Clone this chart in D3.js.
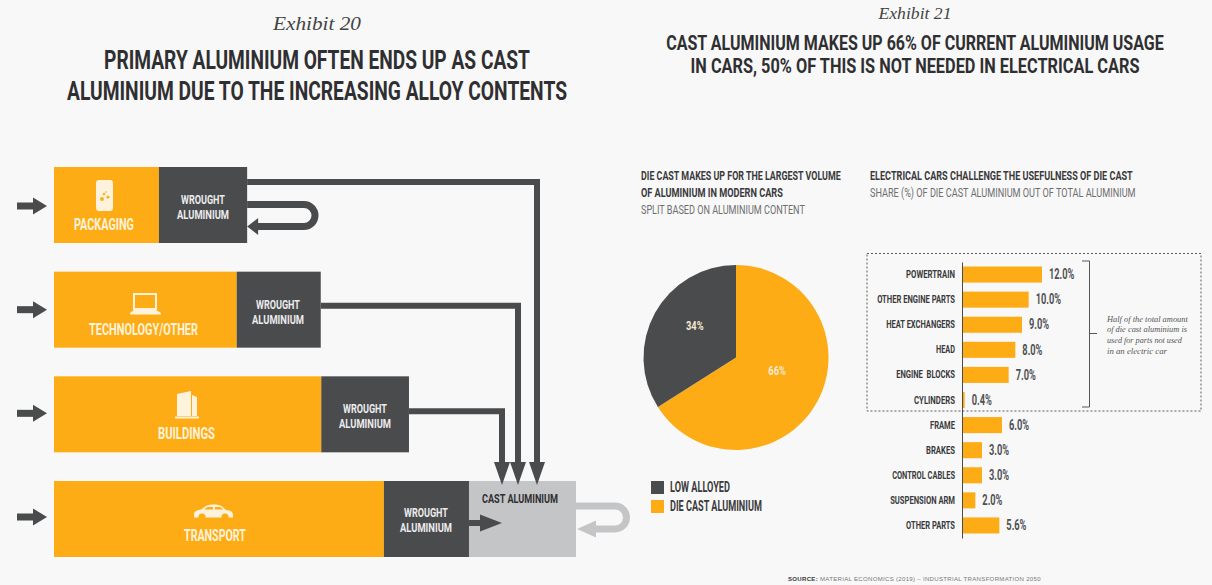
<!DOCTYPE html>
<html>
<head>
<meta charset="utf-8">
<title>Aluminium flows and cast aluminium in cars</title>
<script src="https://cdn.jsdelivr.net/npm/d3@7/dist/d3.min.js"></script>
<style>
  html, body { margin: 0; padding: 0; background: #f8f8f8; }
  svg { display: block; }
  text { font-family: "Liberation Sans Narrow", Roboto, "Liberation Sans", sans-serif; }
  .serif { font-family: "Liberation Serif", serif; font-style: italic; }
  .plain { font-family: "Liberation Sans", sans-serif; }
</style>
</head>
<body>
<svg id="chart" width="1212" height="585"></svg>
<script>
// Sector shares along the material flow, in percent of the full strip length
const sectors = ["PACKAGING", "TECHNOLOGY/OTHER", "BUILDINGS", "TRANSPORT"];
const primaryEnd = [20.1, 35.0, 51.2, 63.2];
const wroughtEnd = [37.0, 51.1, 68.0, 79.5];
const castEnd = 100;

// Composition of aluminium in modern cars
const pieNames = ["DIE CAST ALUMINIUM", "LOW ALLOYED"];
const pieValues = [66, 34];

// Die cast share per car part
const parts = ["POWERTRAIN", "OTHER ENGINE PARTS", "HEAT EXCHANGERS", "HEAD", "ENGINE  BLOCKS", "CYLINDERS",
               "FRAME", "BRAKES", "CONTROL CABLES", "SUSPENSION ARM", "OTHER PARTS"];
const shares = [12.0, 10.0, 9.0, 8.0, 7.0, 0.4, 6.0, 3.0, 3.0, 2.0, 5.6];

const note = ["Half of the total amount", "of die cast aluminium is", "used for parts not used", "in an electric car"];

const ORANGE = "#fdac16", DARK = "#4a4b4d", GREY = "#c4c5c7", INK = "#2f2f31", SOFT = "#6d6e70";
const svg = d3.select("#chart");

// Places a text and scales it horizontally to an exact width
function label(parent, str, x, y, o) {
  const t = parent.append("text")
    .attr("text-anchor", o.anchor || "middle")
    .attr("dominant-baseline", "central")
    .attr("font-size", o.size)
    .attr("font-weight", o.weight || "bold")
    .attr("fill", o.fill || INK)
    .text(str);
  if (o.cls) t.attr("class", o.cls);
  const sx = o.width ? o.width / t.node().getComputedTextLength() : 1;
  t.attr("transform", `translate(${x},${y}) scale(${sx},1)`);
  return t;
}

// Headings
label(svg, "Exhibit 20", 317, 23, { size: 19, weight: "normal", cls: "serif", fill: "#444", width: 88 });
label(svg, "PRIMARY ALUMINIUM OFTEN ENDS UP AS CAST", 317, 60, { size: 26, width: 426 });
label(svg, "ALUMINIUM DUE TO THE INCREASING ALLOY CONTENTS", 317, 91, { size: 26, width: 500 });
label(svg, "Exhibit 21", 915, 14, { size: 17, weight: "normal", cls: "serif", fill: "#444", width: 73 });
label(svg, "CAST ALUMINIUM MAKES UP 66% OF CURRENT ALUMINIUM USAGE", 915, 43, { size: 20, width: 498 });
label(svg, "IN CARS, 50% OF THIS IS NOT NEEDED IN ELECTRICAL CARS", 915, 66, { size: 20, width: 449 });

// ---- Material flow strips ----
const flowX = d3.scaleLinear().domain([0, 100]).range([54, 576]);
const rowY = d3.scalePoint().domain(sectors).range([167, 481]);
const rowH = 76;
const flow = svg.append("g");

// Small arrowhead helper, pointing right, left or down from its tip
function head(tipX, tipY, dir, len, half, fill) {
  const pts = dir === "right" ? [[tipX, tipY], [tipX - len, tipY - half], [tipX - len, tipY + half]]
            : dir === "left"  ? [[tipX, tipY], [tipX + len, tipY - half], [tipX + len, tipY + half]]
            :                   [[tipX, tipY], [tipX - half, tipY - len], [tipX + half, tipY - len]];
  flow.append("polygon").attr("points", pts.join(" ")).attr("fill", fill);
}
function line(d, stroke, w) {
  flow.append("path").attr("d", d).attr("fill", "none").attr("stroke", stroke).attr("stroke-width", w);
}

// Trunk lines run underneath the boxes
const y0 = i => rowY(sectors[i]);
const tipY = rowY(sectors[3]) + 4;
line(`M${flowX(wroughtEnd[0])},${y0(0) + 15}H537V${tipY - 20}`, DARK, 6);
line(`M${flowX(wroughtEnd[1])},${y0(1) + 34}H518V${tipY - 20}`, DARK, 6);
line(`M${flowX(wroughtEnd[2])},${y0(2) + 35}H502V${tipY - 20}`, DARK, 6);

flow.selectAll("rect.primary").data(sectors).join("rect")
  .attr("class", "primary")
  .attr("x", flowX(0)).attr("y", d => rowY(d))
  .attr("width", (d, i) => flowX(primaryEnd[i]) - flowX(0)).attr("height", rowH)
  .attr("fill", ORANGE);
flow.selectAll("rect.wrought").data(sectors).join("rect")
  .attr("class", "wrought")
  .attr("x", (d, i) => flowX(primaryEnd[i])).attr("y", d => rowY(d))
  .attr("width", (d, i) => flowX(wroughtEnd[i]) - flowX(primaryEnd[i])).attr("height", rowH)
  .attr("fill", DARK);
flow.append("rect")
  .attr("x", flowX(wroughtEnd[3])).attr("y", y0(3))
  .attr("width", flowX(castEnd) - flowX(wroughtEnd[3])).attr("height", rowH)
  .attr("fill", GREY);

[502, 518, 537].forEach(x => head(x, tipY, "down", 23, 8, DARK));

// Inbound arrows at the left edge
[39, 38, 37, 36].forEach((dy, i) => {
  flow.append("rect").attr("x", 17).attr("y", y0(i) + dy - 3.5).attr("width", 17).attr("height", 7).attr("fill", DARK);
  head(47, y0(i) + dy, "right", 14, 8.5, DARK);
});

// Packaging loop back into wrought
const px = flowX(wroughtEnd[0]);
line(`M${px},${y0(0) + 37.5}H304A11,11 0 0 1 304,${y0(0) + 59.5}H${px + 8}`, DARK, 7);
head(px, y0(0) + 59.5, "left", 11, 8.5, DARK);

// Transport wrought into cast
const tx = flowX(wroughtEnd[3]);
flow.append("rect").attr("x", tx).attr("y", y0(3) + 39).attr("width", 13).attr("height", 6).attr("fill", DARK);
head(tx + 33, y0(3) + 42, "right", 22, 8.5, DARK);

// Cast aluminium recycling loop
const cx = flowX(castEnd);
line(`M${cx},${y0(3) + 25}H615A11.5,11.5 0 0 1 615,${y0(3) + 48}H${cx + 12}`, GREY, 7);
head(cx + 1, y0(3) + 48, "left", 19, 8.5, GREY);

// Sector names and wrought captions
const sectorLabel = [[104, 224, 60], [143.5, 329, 109], [186.5, 433, 57], [215, 535, 62]];
sectors.forEach((s, i) => label(flow, s, sectorLabel[i][0], sectorLabel[i][1], { size: 16, fill: "#fdf3dc", width: sectorLabel[i][2] }));
const wroughtCaption = [[203, 200], [278, 305], [365, 408.5], [426, 513]];
wroughtCaption.forEach(([x, y]) => {
  label(flow, "WROUGHT", x, y, { size: 13, fill: "#ececed", width: 44 });
  label(flow, "ALUMINIUM", x, y + 14.5, { size: 13, fill: "#ececed", width: 52 });
});
label(flow, "CAST ALUMINIUM", 520, 499, { size: 13, width: 76 });

// Phone icon
const icons = flow.append("g").attr("fill", "#fdf3dc");
icons.append("rect").attr("x", 96).attr("y", 180).attr("width", 17).attr("height", 31).attr("rx", 3);
[[102, 199, 1.9], [108, 197, 1.6], [104, 194, 1.2], [106, 192, .8]].forEach(([x, y, r]) =>
  flow.append("circle").attr("cx", x).attr("cy", y).attr("r", r).attr("fill", ORANGE));
// Laptop icon
flow.append("rect").attr("x", 134).attr("y", 294).attr("width", 22).attr("height", 15)
  .attr("fill", "none").attr("stroke", "#fdf3dc").attr("stroke-width", 2);
icons.append("path").attr("d", "M130,313L134,310H156L161,313V314.5H130Z");
// Buildings icon
icons.append("path").attr("d", "M177,394L191,391V416H177Z");
icons.append("path").attr("d", "M192,395L197,397V416H192Z");
icons.append("rect").attr("x", 175).attr("y", 416.5).attr("width", 24).attr("height", 2);
// Car icon
icons.append("path").attr("d", "M194,515C194,511 197,510 201,509.5L206,506C211,504 218,504 222,506.5L226,510C231,510.5 233,512 233,515V517.5H194Z");
flow.append("path").attr("d", "M204,509.5L207.5,507H213V509.5ZM215,507H220L223.5,509.5H215Z").attr("fill", ORANGE);
[202, 225].forEach(x => {
  flow.append("circle").attr("cx", x).attr("cy", 517).attr("r", 3.6).attr("fill", ORANGE);
  icons.append("circle").attr("cx", x).attr("cy", 517).attr("r", 2.4);
});

// ---- Sub headings ----
label(svg, "DIE CAST MAKES UP FOR THE LARGEST VOLUME", 641, 176, { anchor: "start", size: 13, width: 200, fill: "#3a3a3c" });
label(svg, "OF ALUMINIUM IN MODERN CARS", 641, 193, { anchor: "start", size: 13, width: 142, fill: "#3a3a3c" });
label(svg, "SPLIT BASED ON ALUMINIUM CONTENT", 641, 210, { anchor: "start", size: 13, width: 164, weight: "normal", fill: SOFT });
label(svg, "ELECTRICAL CARS CHALLENGE THE USEFULNESS OF DIE CAST", 870, 176, { anchor: "start", size: 13, width: 263, fill: "#3a3a3c" });
label(svg, "SHARE (%) OF DIE CAST ALUMINIUM OUT OF TOTAL ALUMINIUM", 870, 193, { anchor: "start", size: 13, width: 266, weight: "normal", fill: SOFT });

// ---- Pie ----
const pieColor = d3.scaleOrdinal().domain(pieNames).range([ORANGE, DARK]);
const pie = d3.pie().sort(null)(pieValues);
const arc = d3.arc().innerRadius(0).outerRadius(92.5);
const pieG = svg.append("g").attr("transform", "translate(736,357.5)");
pieG.selectAll("path").data(pie).join("path")
  .attr("d", arc).attr("fill", (d, i) => pieColor(pieNames[i]));
const pieLabel = d3.arc().innerRadius(47).outerRadius(47);
pieG.selectAll("text").data(pie).join("text")
  .attr("transform", d => {
    const [x, y] = pieLabel.centroid(d);
    return `translate(${x},${y - 9}) scale(.78,1)`;
  })
  .attr("text-anchor", "middle").attr("dominant-baseline", "central")
  .attr("font-size", 12).attr("font-weight", "bold").attr("fill", "#f4e9d0")
  .text(d => d.value + "%");

// Legend
[pieNames[1], pieNames[0]].forEach((n, i) => {
  const y = 481 + i * 19;
  svg.append("rect").attr("x", 651).attr("y", y).attr("width", 13).attr("height", 13).attr("fill", pieColor(n));
  label(svg, n, 670, y + 6.5, { anchor: "start", size: 14, width: i ? 92 : 60, fill: "#3a3a3c" });
});

// ---- Bars ----
const barX = d3.scaleLinear().domain([0, 12]).range([962, 1042]);
const barY = d3.scaleBand().domain(parts).range([262, 538]).paddingInner(.36).paddingOuter(.18);
const bars = svg.append("g");

// Dashed frame around the engine-related parts
bars.append("rect").attr("x", 867).attr("y", 253.5).attr("width", 334).attr("height", 157.5)
  .attr("fill", "none").attr("stroke", "#5a5a5c").attr("stroke-width", 1).attr("stroke-dasharray", "2,2");

bars.selectAll("rect.bar").data(parts).join("rect")
  .attr("class", "bar")
  .attr("x", barX(0) + 1).attr("y", d => barY(d))
  .attr("width", (d, i) => barX(shares[i]) - barX(0) - 1).attr("height", barY.bandwidth())
  .attr("fill", ORANGE);

const axis = bars.append("g").attr("transform", `translate(${barX(0)},0)`)
  .call(d3.axisLeft(barY).tickSize(0).tickPadding(7));
axis.select(".domain").attr("stroke", "#4a4b4d").attr("stroke-width", 1);

// Tick labels keep the axis position, narrowed to their printed widths
const labelWidths = [49, 78, 69, 19, 59, 41, 25, 29, 63, 65, 49];
axis.selectAll(".tick text")
  .attr("font-size", 11).attr("font-weight", "bold").attr("fill", "#3a3a3c")
  .style("font-family", '"Liberation Sans Narrow", Roboto, sans-serif')
  .style("white-space", "pre")
  .each(function (d, i) {
    const el = d3.select(this), x = +el.attr("x");
    const sx = labelWidths[i] / this.getComputedTextLength();
    el.attr("x", null).attr("transform", `translate(${x},0) scale(${sx},1)`);
  });

// Value labels beside each bar, condensed like the rest of the type
bars.selectAll("text.value").data(parts).join("text")
  .attr("class", "value")
  .attr("transform", (d, i) => `translate(${barX(shares[i]) + 7},${barY(d) + barY.bandwidth() / 2}) scale(.66,1)`)
  .attr("dominant-baseline", "central")
  .attr("font-size", 14).attr("fill", "#4f5052").attr("font-weight", "bold")
  .text((d, i) => d3.format(".1f")(shares[i]) + "%");

// Bracket and its note
bars.append("path").attr("d", "M1082,261H1089.5V407H1082M1089.5,333.5H1097")
  .attr("fill", "none").attr("stroke", "#55565a").attr("stroke-width", 1);
note.forEach((n, i) => label(bars, n, 1107, 318.5 + i * 10.7, { anchor: "start", size: 9, weight: "normal", cls: "serif", fill: "#555", width: [81, 80, 75, 60][i] }));

// Source line
const src = svg.append("text").attr("class", "plain")
  .attr("dominant-baseline", "central").attr("font-size", 6.2).attr("fill", "#77787a")
  .attr("letter-spacing", ".3");
src.append("tspan").attr("font-weight", "bold").attr("fill", "#3a3a3c").text("SOURCE:");
src.append("tspan").text(" MATERIAL ECONOMICS (2019) \u2013 INDUSTRIAL TRANSFORMATION 2050");
src.attr("transform", `translate(788,578) scale(${253 / src.node().getComputedTextLength()},1)`);
</script>
</body>
</html>
